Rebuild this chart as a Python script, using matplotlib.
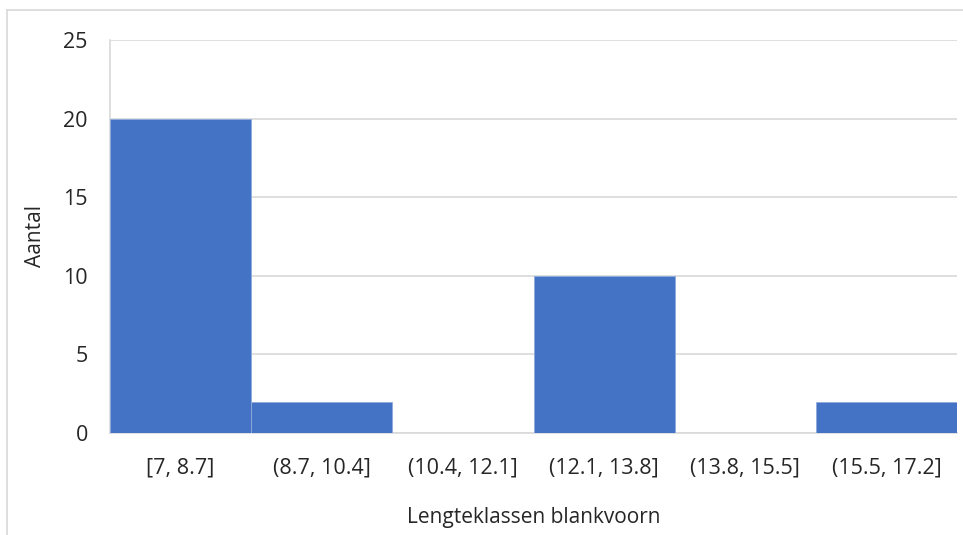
import matplotlib.pyplot as plt
from matplotlib.lines import Line2D

# Histogram data
klassen = ["[7, 8.7]", "(8.7, 10.4]", "(10.4, 12.1]", "(12.1, 13.8]", "(13.8, 15.5]", "(15.5, 17.2]"]
aantal = [20, 2, 0, 10, 0, 2]
y_ticks = [0, 5, 10, 15, 20, 25]

plt.rcParams['font.family'] = ['Open Sans', 'DejaVu Sans']

fig = plt.figure(figsize=(9.63, 5.35), dpi=100)
ax = fig.add_axes([0.1142, 0.1907, 0.8796, 0.7345])

posities = range(len(klassen))
ax.bar(posities, aantal, width=1.0, color="#4472C4", edgecolor="#8FAADC", linewidth=0.6, zorder=3)

ax.set_xlim(-0.5, len(klassen) - 0.5)
ax.set_ylim(0, 25)
ax.set_yticks(y_ticks)
ax.set_xticks(list(posities))
ax.set_xticklabels(klassen)

ax.grid(axis="y", color="#D9D9D9", linewidth=1.2, zorder=0)
for side in ["top", "right"]:
    ax.spines[side].set_visible(False)
ax.spines["left"].set_color("#D9D9D9")
ax.spines["bottom"].set_color("#D9D9D9")
ax.spines["left"].set_linewidth(1.2)
ax.spines["bottom"].set_linewidth(1.2)

ax.tick_params(axis="both", length=0, labelsize=15.5, colors="#262626")
ax.tick_params(axis="x", pad=18)
ax.tick_params(axis="y", pad=16)

ax.set_xlabel("Lengteklassen blankvoorn", fontsize=15, color="#262626", labelpad=20)
ax.set_ylabel("Aantal", fontsize=15, color="#262626", labelpad=12)

# Chart border
fig.add_artist(Line2D([7 / 963, 1.0], [1 - 10 / 535, 1 - 10 / 535], color="#D9D9D9", linewidth=1.2))
fig.add_artist(Line2D([7 / 963, 7 / 963], [0.0, 1 - 10 / 535], color="#D9D9D9", linewidth=1.2))

fig.savefig("out.png", dpi=100)
